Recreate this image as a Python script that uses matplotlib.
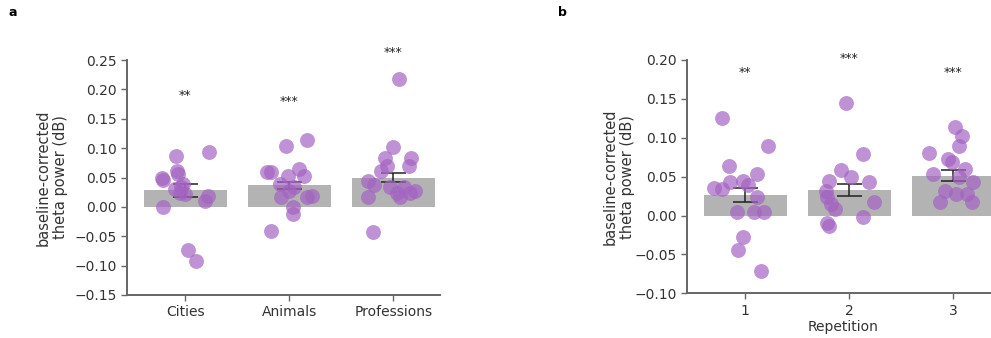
import numpy as np
import matplotlib
matplotlib.use("Agg")
import matplotlib.pyplot as plt

# panel a: semantic category
categories = ["Cities", "Animals", "Professions"]
cities = [0.087, 0.094, 0.050, 0.046, 0.061, 0.056, 0.039, 0.033, 0.024, 0.022,
          0.019, 0.010, 0.000, -0.074, -0.092, 0.030]
cities_jit = [-0.09, 0.23, -0.22, -0.21, -0.08, -0.07, -0.02, -0.04, -0.05, 0.00,
              0.22, 0.19, -0.21, 0.03, 0.10, -0.10]
animals = [0.104, 0.114, 0.060, 0.059, 0.064, 0.053, 0.053, 0.039, 0.027, 0.019,
           0.016, 0.016, -0.001, -0.012, -0.041, 0.033]
animals_jit = [-0.03, 0.17, -0.18, -0.21, 0.09, 0.14, -0.01, -0.09, 0.00, 0.22,
               0.17, -0.08, 0.04, 0.04, -0.18, 0.05]
professions = [0.217, 0.102, 0.084, 0.084, 0.070, 0.070, 0.061, 0.044, 0.038, 0.033,
               0.033, 0.027, 0.024, 0.024, 0.016, 0.016, -0.043]
professions_jit = [0.06, 0.00, -0.08, 0.17, 0.15, -0.06, -0.12, -0.24, -0.18, -0.03,
                   0.10, 0.21, 0.04, 0.16, -0.24, 0.07, -0.19]
cat_means = [0.028, 0.037, 0.050]
cat_sem = [0.0105, 0.006, 0.0085]
cat_stars = ["**", "***", "***"]
cat_star_y = [0.19, 0.18, 0.262]

# panel b: repetition
repetitions = ["1", "2", "3"]
rep1 = [0.126, 0.090, 0.064, 0.053, 0.036, 0.034, 0.043, 0.045, 0.039, 0.024,
        0.004, 0.004, 0.004, -0.027, -0.044, -0.071]
rep1_jit = [-0.22, 0.22, -0.16, 0.11, -0.30, -0.22, -0.15, -0.02, 0.03, 0.11,
            -0.08, 0.08, 0.18, -0.02, -0.07, 0.15]
rep2 = [0.145, 0.079, 0.058, 0.049, 0.043, 0.045, 0.032, 0.024, 0.015, 0.009,
        0.017, -0.002, -0.009, -0.013]
rep2_jit = [-0.03, 0.13, -0.08, 0.02, 0.19, -0.19, -0.22, -0.21, -0.18, -0.14,
            0.24, 0.13, -0.21, -0.19]
rep3 = [0.114, 0.102, 0.090, 0.080, 0.073, 0.069, 0.053, 0.060, 0.049, 0.043,
        0.032, 0.028, 0.028, 0.017, 0.017]
rep3_jit = [0.02, 0.08, 0.06, -0.23, -0.05, -0.01, -0.19, 0.11, 0.06, 0.19,
            -0.08, 0.03, 0.13, -0.13, 0.18]
rep_means = [0.026, 0.033, 0.051]
rep_sem = [0.009, 0.008, 0.007]
rep_stars = ["**", "***", "***"]
rep_star_y = [0.184, 0.202, 0.184]

DOT = "#a364c2"
BAR = "#b3b3b3"
SPINE = "#666666"
TXT = "#333333"

fig = plt.figure(figsize=(9.91, 3.38), dpi=100)
ax_a = fig.add_axes([127 / 991, 43 / 338, 313 / 991, 235 / 338])
ax_b = fig.add_axes([687 / 991, 44.7 / 338, 313 / 991, 233.3 / 338])


def panel(ax, labels, groups, jits, means, sem, stars, star_y, ylim, yticks):
    x = np.arange(len(labels))
    ax.bar(x, means, width=0.8, color=BAR, zorder=1)
    ax.errorbar(x, means, yerr=sem, fmt="none", ecolor="#222222",
                elinewidth=1.1, capsize=9, capthick=1.1, zorder=2)
    for i, (vals, jit) in enumerate(zip(groups, jits)):
        ax.scatter(i + np.array(jit), vals, s=115, color=DOT, alpha=0.7,
                   linewidths=0, zorder=3)
    for i, (s, y) in enumerate(zip(stars, star_y)):
        ax.text(i, y, s, ha="center", va="center", fontsize=9,
                color="#222222", clip_on=False)
    ax.set_xlim(-0.56, 2.45)
    ax.set_ylim(*ylim)
    ax.set_yticks(yticks)
    ax.set_yticklabels([f"{t:.2f}".replace("-", "\u2212") for t in yticks])
    ax.set_xticks(x)
    ax.set_xticklabels(labels)
    for side in ["top", "right"]:
        ax.spines[side].set_visible(False)
    for side in ["left", "bottom"]:
        ax.spines[side].set_color(SPINE)
        ax.spines[side].set_linewidth(1.4)
    ax.tick_params(direction="out", length=4, width=1, color=SPINE,
                   labelsize=10, labelcolor=TXT)
    ax.set_ylabel("baseline-corrected\ntheta power (dB)", fontsize=10.5,
                  color=TXT)


panel(ax_a, categories, [cities, animals, professions],
      [cities_jit, animals_jit, professions_jit], cat_means, cat_sem,
      cat_stars, cat_star_y, (-0.15, 0.25), np.arange(-0.15, 0.251, 0.05))
ax_a.yaxis.set_label_coords(-0.19, 0.5)

panel(ax_b, repetitions, [rep1, rep2, rep3], [rep1_jit, rep2_jit, rep3_jit],
      rep_means, rep_sem, rep_stars, rep_star_y, (-0.10, 0.20),
      np.arange(-0.10, 0.201, 0.05))
ax_b.yaxis.set_label_coords(-0.166, 0.5)
ax_b.set_xlabel("Repetition", fontsize=10, color=TXT, labelpad=2)

fig.text(13 / 991, 1 - 13 / 338, "a", fontsize=9, fontweight="bold",
         ha="center", va="center")
fig.text(562 / 991, 1 - 13 / 338, "b", fontsize=9, fontweight="bold",
         ha="center", va="center")

fig.savefig("out.png", dpi=100)
